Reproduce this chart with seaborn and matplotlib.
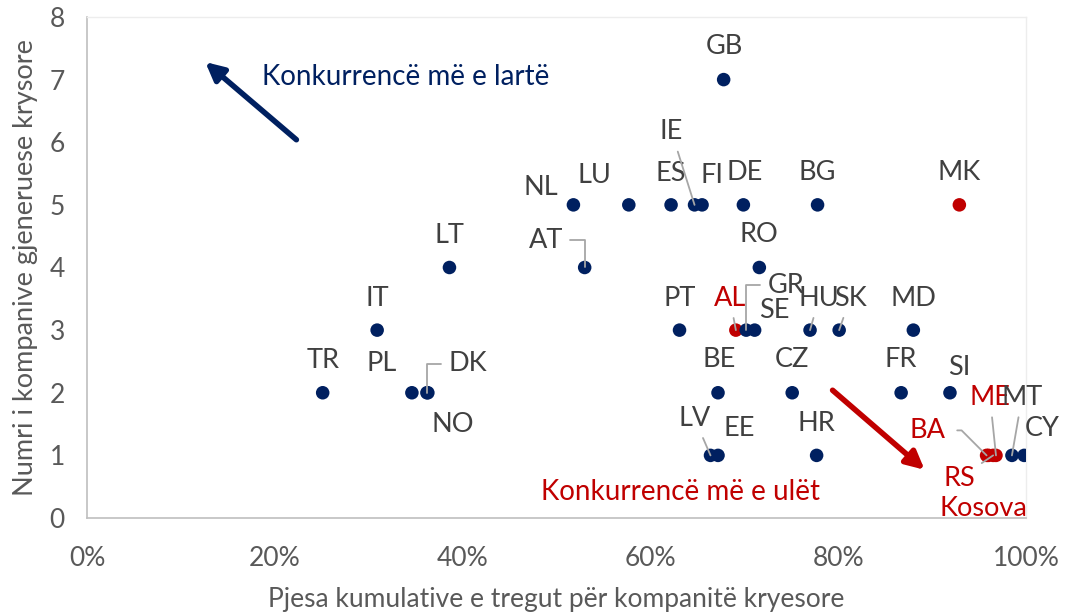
import matplotlib
matplotlib.use("Agg")
import matplotlib.pyplot as plt
import seaborn as sns
import pandas as pd
from matplotlib.ticker import PercentFormatter

# ---- data ----
countries = ["GB", "NL", "LU", "ES", "IE", "FI", "DE", "BG", "MK",
             "LT", "AT", "RO",
             "IT", "PT", "AL", "GR", "SE", "HU", "SK", "MD",
             "TR", "PL", "DK", "NO", "BE", "CZ", "FR", "SI",
             "LV", "EE", "HR", "BA", "Kosova", "RS", "ME", "MT", "CY"]
market_share = [0.678, 0.518, 0.577, 0.622, 0.647, 0.655, 0.699, 0.778, 0.929,
                0.386, 0.530, 0.716,
                0.309, 0.631, 0.691, 0.702, 0.711, 0.770, 0.801, 0.880,
                0.251, 0.346, 0.362, 0.363, 0.672, 0.751, 0.867, 0.919,
                0.664, 0.672, 0.777, 0.958, 0.960, 0.965, 0.968, 0.985, 0.998]
n_companies = [7, 5, 5, 5, 5, 5, 5, 5, 5,
               4, 4, 4,
               3, 3, 3, 3, 3, 3, 3, 3,
               2, 2, 2, 2, 2, 2, 2, 2,
               1, 1, 1, 1, 1, 1, 1, 1, 1]
region = ["EU", "EU", "EU", "EU", "EU", "EU", "EU", "EU", "WB",
          "EU", "EU", "EU",
          "EU", "EU", "WB", "EU", "EU", "EU", "EU", "EU",
          "EU", "EU", "EU", "EU", "EU", "EU", "EU", "EU",
          "EU", "EU", "EU", "WB", "WB", "WB", "WB", "EU", "EU"]
red_labels = ["AL", "BA", "Kosova", "RS", "ME"]
x_ticks = [0, 0.2, 0.4, 0.6, 0.8, 1.0]
y_ticks = [0, 1, 2, 3, 4, 5, 6, 7, 8]

# ---- label styling (offsets in pixels from the point, leader kind) ----
label_style = {
    "GB": (1, 33, None), "NL": (-33, 17, None), "LU": (-34, 29, None),
    "ES": (0, 31, None), "IE": (-23, 73, "line"), "FI": (10, 29, None),
    "DE": (1, 32, None), "BG": (0, 32, None), "MK": (0, 32, None),
    "LT": (0, 32, None), "AT": (-39, 27, "elbowL"), "RO": (0, 33, None),
    "IT": (0, 32, None), "PT": (0, 32, None), "AL": (-6, 32, "line"),
    "GR": (40, 45, "elbowR"), "SE": (20, 20, None), "HU": (9, 32, "line"),
    "SK": (11, 32, "line"), "MD": (0, 32, None),
    "TR": (0, 32, None), "PL": (-30, 29, None), "DK": (41, 29, "elbowR"),
    "NO": (25, -32, None), "BE": (1, 33, None), "CZ": (0, 33, None),
    "FR": (0, 33, None), "SI": (9, 25, None),
    "LV": (-16, 37, "line"), "EE": (21, 27, None), "HR": (0, 32, None),
    "BA": (-59, 25, "elbowBA"), "Kosova": (-5, -53, None), "RS": (-34, -23, "line"),
    "ME": (-6, 58, "line"), "MT": (10, 58, "line"), "CY": (18, 27, None),
}

NAVY = "#002060"
RED = "#C00000"
GREY_TXT = "#404040"
LEADER = "#A6A6A6"
FONT = "Lato"

df = pd.DataFrame({"country": countries, "share": market_share,
                   "n": n_companies, "region": region})

sns.set_theme(style="white")
plt.rcParams["font.family"] = [FONT, "DejaVu Sans"]

fig = plt.figure(figsize=(10.66, 6.15), dpi=100)
ax = fig.add_axes([0.0816, 0.1577, 0.8809, 0.8147])

sns.scatterplot(data=df, x="share", y="n", hue="region",
                palette={"EU": NAVY, "WB": RED}, s=95, edgecolor="none",
                legend=False, ax=ax, zorder=3)

ax.set_xlim(0, 1.0)
ax.set_ylim(0, 8)
ax.set_xticks(x_ticks)
ax.set_yticks(y_ticks)
ax.xaxis.set_major_formatter(PercentFormatter(1.0, decimals=0))
ax.tick_params(axis="both", length=0, labelsize=19, labelcolor="#595959")
ax.tick_params(axis="x", pad=20)
ax.tick_params(axis="y", pad=16)

for side in ["left", "bottom"]:
    ax.spines[side].set_color("#BFBFBF")
    ax.spines[side].set_linewidth(1.2)
for side in ["top", "right"]:
    ax.spines[side].set_color("#EDEDED")
    ax.spines[side].set_linewidth(1.0)

ax.set_xlabel("Pjesa kumulative e tregut për kompanitë kryesore",
              fontsize=19, color="#595959", labelpad=12)
ax.set_ylabel("Numri i kompanive gjeneruese krysore",
              fontsize=19.5, color="#595959", labelpad=8)

for _, row in df.iterrows():
    dx, dy, kind = label_style[row["country"]]
    col = RED if row["country"] in red_labels else GREY_TXT
    kw = dict(xy=(row["share"], row["n"]), xytext=(dx, dy),
              textcoords="offset pixels", ha="center", va="center",
              fontsize=19.5, color=col, zorder=4)
    if kind == "line":
        kw["arrowprops"] = dict(arrowstyle="-", color=LEADER, lw=1.3,
                                shrinkA=3, shrinkB=0)
    elif kind == "elbowL":
        kw["arrowprops"] = dict(arrowstyle="-", color=LEADER, lw=1.3,
                                shrinkA=3, shrinkB=0, relpos=(1, 0.5),
                                connectionstyle="angle,angleA=0,angleB=90,rad=0")
    elif kind == "elbowR":
        kw["arrowprops"] = dict(arrowstyle="-", color=LEADER, lw=1.3,
                                shrinkA=3, shrinkB=0, relpos=(0, 0.5),
                                connectionstyle="angle,angleA=0,angleB=90,rad=0")
    elif kind == "elbowBA":
        kw["arrowprops"] = dict(arrowstyle="-", color=LEADER, lw=1.3,
                                shrinkA=6, shrinkB=0, relpos=(1, 0.5),
                                connectionstyle="angle,angleA=0,angleB=135,rad=0")
    ax.annotate(row["country"], **kw)

# direction arrows
ax.annotate("", xy=(0.126, 7.28), xytext=(0.223, 6.04),
            arrowprops=dict(arrowstyle="-|>,head_length=0.9,head_width=0.45",
                            color=NAVY, lw=4, shrinkA=0, shrinkB=0))
ax.text(0.186, 7.04, "Konkurrencë më e lartë", color=NAVY, fontsize=20,
        ha="left", va="center")
ax.annotate("", xy=(0.892, 0.77), xytext=(0.794, 2.04),
            arrowprops=dict(arrowstyle="-|>,head_length=0.9,head_width=0.45",
                            color=RED, lw=4, shrinkA=0, shrinkB=0))
ax.text(0.483, 0.415, "Konkurrencë më e ulët", color=RED, fontsize=20,
        ha="left", va="center")

fig.savefig("out.png", dpi=100)
